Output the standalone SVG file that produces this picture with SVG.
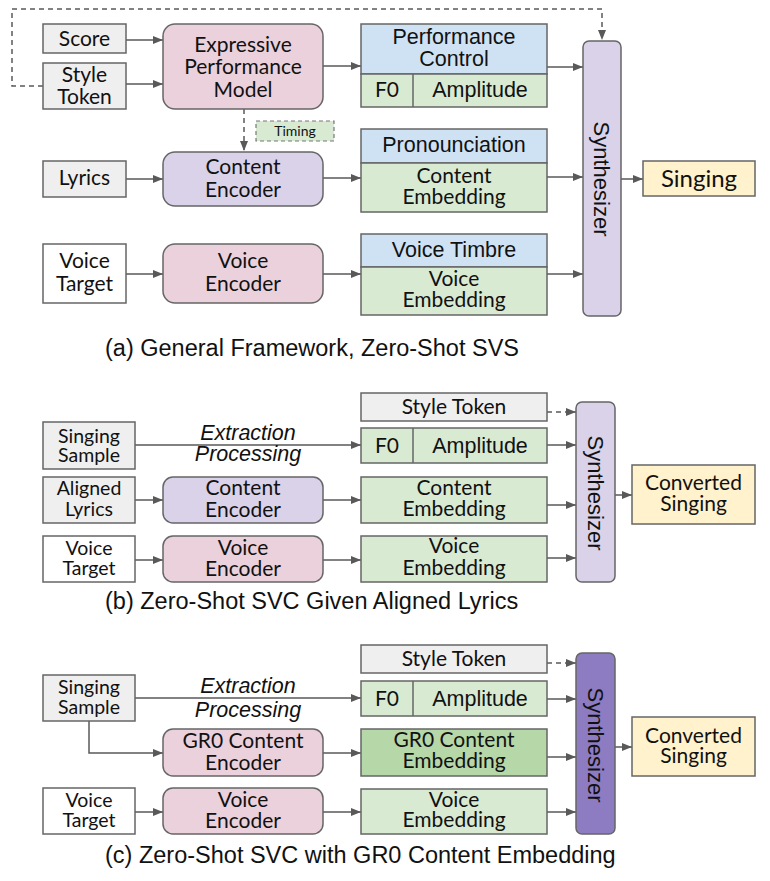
<svg xmlns="http://www.w3.org/2000/svg" width="770" height="881" viewBox="0 0 770 881">
<style>
.bx{stroke:#666;stroke-width:1.5}
.gray{fill:#efefef}.white{fill:#fff}.pink{fill:#ead1dc}.lav{fill:#d9d2e9}.blue{fill:#cfe2f3}.green{fill:#d9ead3}.dgreen{fill:#b6d7a8}.yellow{fill:#fff2cc}.purple{fill:#8e7cc3}
.c{font-family:Lato,"Open Sans",sans-serif;font-size:21px;fill:#111;text-anchor:middle}
.s{font-size:19.5px}
.a{font-family:"Liberation Sans",Arial,sans-serif;font-size:21.5px;fill:#111;text-anchor:middle}
.it{font-family:"Liberation Sans",Arial,sans-serif;font-size:21.5px;font-style:italic;fill:#111;text-anchor:middle}
.cap{font-family:"Liberation Sans",Arial,sans-serif;font-size:23.5px;fill:#111}
.ln{fill:none;stroke:#595959;stroke-width:1.5}
.dash{stroke-dasharray:5,4}
</style>
<defs>
<marker id="ah" markerWidth="10" markerHeight="8" refX="10" refY="4" orient="auto" markerUnits="userSpaceOnUse">
<path d="M0,0 L10,4 L0,8 Z" fill="#595959"/>
</marker>
</defs>

<g id="connectors">
<path class="ln dash" d="M43,86 H12 V9 H602 V40" marker-end="url(#ah)"/>
<line class="ln" x1="126" y1="40" x2="163" y2="40" marker-end="url(#ah)"/>
<line class="ln" x1="126" y1="84" x2="163" y2="84" marker-end="url(#ah)"/>
<line class="ln" x1="126" y1="179" x2="163" y2="179" marker-end="url(#ah)"/>
<line class="ln" x1="126" y1="274" x2="163" y2="274" marker-end="url(#ah)"/>
<line class="ln dash" x1="244" y1="109" x2="244" y2="151" marker-end="url(#ah)"/>
<line class="ln" x1="323" y1="66" x2="361" y2="66" marker-end="url(#ah)"/>
<line class="ln" x1="323" y1="178" x2="361" y2="178" marker-end="url(#ah)"/>
<line class="ln" x1="323" y1="274" x2="361" y2="274" marker-end="url(#ah)"/>
<line class="ln" x1="547" y1="67" x2="583" y2="67" marker-end="url(#ah)"/>
<line class="ln" x1="547" y1="177" x2="583" y2="177" marker-end="url(#ah)"/>
<line class="ln" x1="547" y1="274" x2="583" y2="274" marker-end="url(#ah)"/>
<line class="ln" x1="621" y1="179" x2="643" y2="179" marker-end="url(#ah)"/>
<line class="ln" x1="135" y1="445" x2="361" y2="445" marker-end="url(#ah)"/>
<line class="ln" x1="135" y1="500" x2="163" y2="500" marker-end="url(#ah)"/>
<line class="ln" x1="135" y1="560" x2="163" y2="560" marker-end="url(#ah)"/>
<line class="ln" x1="323" y1="500" x2="361" y2="500" marker-end="url(#ah)"/>
<line class="ln" x1="323" y1="560" x2="361" y2="560" marker-end="url(#ah)"/>
<line class="ln dash" x1="547" y1="412" x2="576" y2="412" marker-end="url(#ah)"/>
<line class="ln" x1="547" y1="445" x2="576" y2="445" marker-end="url(#ah)"/>
<line class="ln" x1="547" y1="505" x2="576" y2="505" marker-end="url(#ah)"/>
<line class="ln" x1="547" y1="558" x2="576" y2="558" marker-end="url(#ah)"/>
<line class="ln" x1="615" y1="495" x2="632" y2="495" marker-end="url(#ah)"/>
<line class="ln" x1="135" y1="698" x2="361" y2="698" marker-end="url(#ah)"/>
<path class="ln" d="M89,721 V753 H163" marker-end="url(#ah)"/>
<line class="ln" x1="135" y1="812" x2="163" y2="812" marker-end="url(#ah)"/>
<line class="ln" x1="323" y1="753" x2="361" y2="753" marker-end="url(#ah)"/>
<line class="ln" x1="323" y1="812" x2="361" y2="812" marker-end="url(#ah)"/>
<line class="ln dash" x1="547" y1="663" x2="576" y2="663" marker-end="url(#ah)"/>
<line class="ln" x1="547" y1="699" x2="576" y2="699" marker-end="url(#ah)"/>
<line class="ln" x1="547" y1="757" x2="576" y2="757" marker-end="url(#ah)"/>
<line class="ln" x1="547" y1="812" x2="576" y2="812" marker-end="url(#ah)"/>
<line class="ln" x1="615" y1="747" x2="632" y2="747" marker-end="url(#ah)"/>
</g>

<!-- ===== Section a ===== -->
<g id="a-score"><rect class="bx gray" x="43" y="24" width="83" height="29"/><text class="c" x="84.5" y="46">Score</text></g>
<g id="a-style-token"><rect class="bx gray" x="43" y="63" width="83" height="46"/><text class="c" x="84.5" y="82">Style<tspan x="84.5" dy="22">Token</tspan></text></g>
<g id="a-epm"><rect class="bx pink" x="163" y="24" width="160" height="85" rx="12"/><text class="c" x="243" y="52">Expressive<tspan x="243" dy="22">Performance</tspan><tspan x="243" dy="23">Model</tspan></text></g>
<g id="a-timing"><rect x="256" y="121" width="78" height="20" fill="#d9ead3" stroke="#777" stroke-width="1.2" stroke-dasharray="4,3"/><text class="c" x="295" y="136" style="font-size:14px">Timing</text></g>
<g id="a-lyrics"><rect class="bx gray" x="43" y="161" width="83" height="36"/><text class="c" x="84.5" y="185">Lyrics</text></g>
<g id="a-content-encoder"><rect class="bx lav" x="163" y="152" width="160" height="54" rx="12"/><text class="c" x="243" y="174">Content<tspan x="243" dy="23">Encoder</tspan></text></g>
<g id="a-voice-target"><rect class="bx white" x="43" y="244" width="83" height="59"/><text class="c" x="84.5" y="268">Voice<tspan x="84.5" dy="23">Target</tspan></text></g>
<g id="a-voice-encoder"><rect class="bx pink" x="163" y="244" width="160" height="59" rx="12"/><text class="c" x="243" y="268">Voice<tspan x="243" dy="23">Encoder</tspan></text></g>
<g id="a-performance-control"><rect class="bx blue" x="361" y="24" width="186" height="50"/><text class="a" x="454" y="44">Performance<tspan x="454" dy="22">Control</tspan></text>
<rect class="bx green" x="361" y="74" width="186" height="33"/><line class="bx" x1="413" y1="74" x2="413" y2="107"/><text class="c" x="387" y="97">F0</text><text class="a" x="480" y="97">Amplitude</text></g>
<g id="a-pronounciation"><rect class="bx blue" x="361" y="129" width="186" height="34"/><text class="a" x="454" y="152">Pronounciation</text>
<rect class="bx green" x="361" y="163" width="186" height="49"/><text class="c" x="454" y="183">Content<tspan x="454" dy="21">Embedding</tspan></text></g>
<g id="a-voice-timbre"><rect class="bx blue" x="361" y="234" width="186" height="33"/><text class="a" x="454" y="257">Voice Timbre</text>
<rect class="bx green" x="361" y="267" width="186" height="48"/><text class="c" x="454" y="286">Voice<tspan x="454" dy="21">Embedding</tspan></text></g>
<g id="a-synthesizer"><rect class="bx lav" x="583" y="41" width="38" height="275" rx="6"/><text class="a" transform="translate(602,179) rotate(90)" y="8" style="font-size:22px">Synthesizer</text></g>
<g id="a-singing"><rect class="bx yellow" x="643" y="161" width="112" height="35"/><text class="c" x="699" y="187" style="font-size:24px">Singing</text></g>
<text class="cap" x="105" y="356">(a) General Framework, Zero-Shot SVS</text>

<!-- ===== Section b ===== -->
<g id="b-singing-sample"><rect class="bx gray" x="43" y="422" width="92" height="47"/><text class="c s" x="89" y="443">Singing<tspan x="89" dy="19">Sample</tspan></text></g>
<text class="it" x="248" y="440">Extraction<tspan x="248" dy="21">Processing</tspan></text>
<g id="b-aligned-lyrics"><rect class="bx gray" x="43" y="477" width="92" height="46"/><text class="c s" x="89" y="495">Aligned<tspan x="89" dy="21">Lyrics</tspan></text></g>
<g id="b-content-encoder"><rect class="bx lav" x="163" y="477" width="160" height="46" rx="10"/><text class="c" x="243" y="495">Content<tspan x="243" dy="22">Encoder</tspan></text></g>
<g id="b-voice-target"><rect class="bx white" x="43" y="536" width="92" height="46"/><text class="c s" x="89" y="555">Voice<tspan x="89" dy="20">Target</tspan></text></g>
<g id="b-voice-encoder"><rect class="bx pink" x="163" y="536" width="160" height="46" rx="10"/><text class="c" x="243" y="555">Voice<tspan x="243" dy="21">Encoder</tspan></text></g>
<g id="b-style-token"><rect class="bx gray" x="361" y="393" width="186" height="28"/><text class="c" x="454" y="414">Style Token</text></g>
<g id="b-f0-amplitude"><rect class="bx green" x="361" y="428" width="186" height="35"/><line class="bx" x1="413" y1="428" x2="413" y2="463"/><text class="c" x="387" y="453">F0</text><text class="a" x="480" y="453">Amplitude</text></g>
<g id="b-content-embedding"><rect class="bx green" x="361" y="477" width="186" height="46"/><text class="c" x="454" y="495">Content<tspan x="454" dy="21">Embedding</tspan></text></g>
<g id="b-voice-embedding"><rect class="bx green" x="361" y="536" width="186" height="46"/><text class="c" x="454" y="553">Voice<tspan x="454" dy="22">Embedding</tspan></text></g>
<g id="b-synthesizer"><rect class="bx lav" x="576" y="402" width="39" height="180" rx="6"/><text class="a" transform="translate(595.5,493) rotate(90)" y="8" style="font-size:22px">Synthesizer</text></g>
<g id="b-converted-singing"><rect class="bx yellow" x="632" y="465" width="123" height="59"/><text class="c" x="693.5" y="490">Converted<tspan x="693.5" dy="21">Singing</tspan></text></g>
<text class="cap" x="105" y="609">(b) Zero-Shot SVC Given Aligned Lyrics</text>

<!-- ===== Section c ===== -->
<g id="c-singing-sample"><rect class="bx gray" x="43" y="675" width="92" height="46"/><text class="c s" x="89" y="694">Singing<tspan x="89" dy="20">Sample</tspan></text></g>
<text class="it" x="248" y="693">Extraction<tspan x="248" dy="24">Processing</tspan></text>
<g id="c-gr0-content-encoder"><rect class="bx pink" x="163" y="729" width="160" height="47" rx="10"/><text class="c" x="243" y="748">GR0 Content<tspan x="243" dy="22">Encoder</tspan></text></g>
<g id="c-voice-target"><rect class="bx white" x="43" y="788" width="92" height="46"/><text class="c s" x="89" y="807">Voice<tspan x="89" dy="20">Target</tspan></text></g>
<g id="c-voice-encoder"><rect class="bx pink" x="163" y="788" width="160" height="46" rx="10"/><text class="c" x="243" y="807">Voice<tspan x="243" dy="21">Encoder</tspan></text></g>
<g id="c-style-token"><rect class="bx gray" x="361" y="645" width="186" height="28"/><text class="c" x="454" y="666">Style Token</text></g>
<g id="c-f0-amplitude"><rect class="bx green" x="361" y="681" width="186" height="35"/><line class="bx" x1="413" y1="681" x2="413" y2="716"/><text class="c" x="387" y="706">F0</text><text class="a" x="480" y="706">Amplitude</text></g>
<g id="c-gr0-content-embedding"><rect class="bx dgreen" x="361" y="729" width="186" height="47"/><text class="c" x="454" y="747">GR0 Content<tspan x="454" dy="21">Embedding</tspan></text></g>
<g id="c-voice-embedding"><rect class="bx green" x="361" y="789" width="186" height="45"/><text class="c" x="454" y="807">Voice<tspan x="454" dy="20">Embedding</tspan></text></g>
<g id="c-synthesizer"><rect class="bx purple" x="576" y="653" width="39" height="181" rx="6"/><text class="a" transform="translate(595.5,745) rotate(90)" y="8" style="font-size:22px">Synthesizer</text></g>
<g id="c-converted-singing"><rect class="bx yellow" x="632" y="717" width="123" height="59"/><text class="c" x="693.5" y="743">Converted<tspan x="693.5" dy="20">Singing</tspan></text></g>
<text class="cap" x="105" y="863">(c) Zero-Shot SVC with GR0 Content Embedding</text>
</svg>
